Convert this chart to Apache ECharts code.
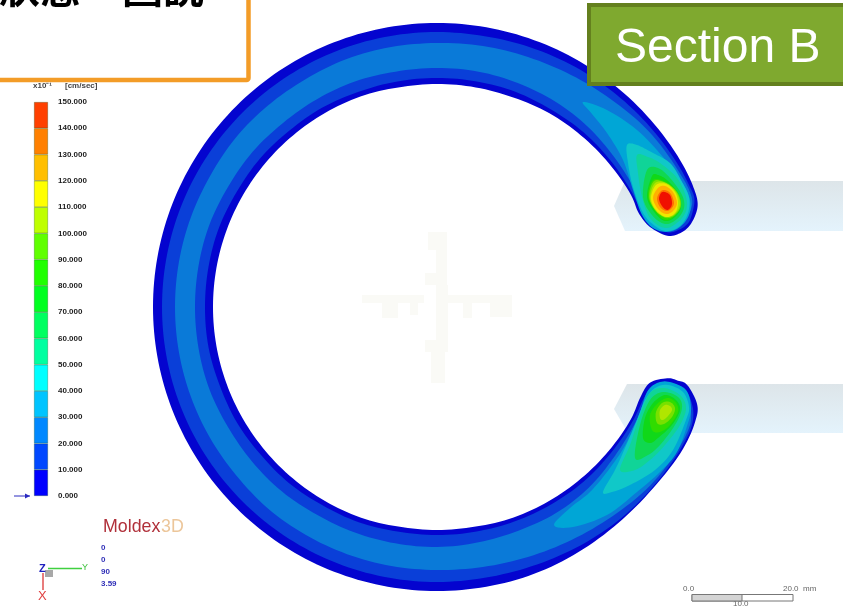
<!DOCTYPE html>
<html>
<head>
<meta charset="utf-8">
<title>Section B</title>
<script src="https://cdn.jsdelivr.net/npm/echarts@6/dist/echarts.min.js"></script>
<style>
html, body { margin: 0; padding: 0; background: #fff; }
#box { width: 843px; height: 606px; overflow: hidden; }
</style>
</head>
<body>
<div id="box"></div>
<script>
// colour bar
const legendTicks = [0, 10, 20, 30, 40, 50, 60, 70, 80, 90, 100, 110, 120, 130, 140, 150];
const legendBands = [10, 10, 10, 10, 10, 10, 10, 10, 10, 10, 10, 10, 10, 10, 10];
const legendColors = ['#0000ff', '#0048ff', '#0088ff', '#00c4ff', '#00ffff', '#00ffa0', '#00ff60', '#00ff20', '#20ff00', '#60ff00', '#bfff00', '#ffff00', '#ffbf00', '#ff8000', '#ff4000'];
// the shaded part looks darker than the bar
const contourColors = ['#0404cf', '#0a3fd8', '#0a7ad8', '#00a6d6', '#10c8c8', '#10d498', '#10d850', '#10d818', '#30dc00', '#78e000', '#b0e600', '#f0e800', '#ffb000', '#ff7000', '#f01000'];

// ring: radius read at each angle, degrees counter clockwise from the open side
const ringAngles = [30, 40, 50, 60, 70, 80, 90, 100, 110, 120, 130, 140, 150, 160, 170, 180, 190, 200, 210, 220, 230, 240, 250, 260, 270, 280, 290, 300, 310, 320, 330];
const outer0 = [284, 284, 284, 284, 284, 284, 284, 284, 284, 284, 284, 284, 284, 284, 284, 284, 284, 284, 284, 284, 284, 284, 284, 284, 284, 284, 284, 283, 282, 282, 284];
const inner0 = [224, 224, 224, 224, 223, 223, 223, 223, 224, 224, 224, 224, 224, 224, 224, 224, 224, 224, 224, 224, 224, 224, 224, 223, 223, 223, 224, 224, 224, 224, 224];
const outer10 = [280, 279, 278, 277, 276, 275, 275, 275, 275, 275, 275, 275, 275, 275, 275, 275, 275, 275, 275, 275, 275, 275, 275, 275, 275, 275, 276, 278, 280, 281, 282];
const inner10 = [226, 227, 228, 228, 229, 229, 229, 229, 229, 230, 230, 231, 231, 232, 232, 232, 232, 231, 231, 230, 230, 229, 229, 228, 228, 228, 228, 228, 228, 227, 226.5];
const outer20 = [277, 275, 271, 268, 266, 265, 264, 264, 264, 263, 263, 263, 262, 262, 262, 262, 262, 262, 262, 262, 263, 263, 263, 263, 263, 264, 266, 269, 273, 278, 280];
const inner20 = [230, 232, 235, 237, 238, 239, 239, 239, 240, 240, 240, 241, 241, 242, 242, 242, 242, 242, 241, 241, 241, 240, 240, 240, 240, 239, 238, 238, 236, 232, 229.5];

// rounded ends of the ring, [angle, radius]
const capUpper0 = [[25, 222.5], [20.6, 227.5], [17.2, 241], [16.9, 254], [17.8, 265], [19.9, 275.5], [22, 281], [25, 283]];
const capLower0 = [[336, 282.5], [339.4, 278], [342.7, 262], [343, 252], [342.8, 241], [340.4, 226], [336, 222.5]];
const capUpper10 = [[25, 226], [21, 231.5], [18, 242], [17.7, 254], [18.5, 265], [20.5, 273], [23, 279.5], [26, 280]];
const capLower10 = [[335, 281], [338.5, 275], [341.6, 262], [342, 252], [341.6, 241], [339.5, 229.5], [336, 226]];
const capUpper20 = [[25, 229.5], [21.8, 234], [19, 243], [18.7, 254], [19.2, 260], [20, 267], [21.3, 273], [23, 277], [26, 278]];
const capLower20 = [[334.5, 279.5], [336.5, 277], [338.5, 272], [340.6, 261], [341, 252], [340.6, 243], [338.5, 233], [335.5, 229]];

// fast regions near the two ends, [x, y] from the ring centre
const upper30 = [[146, 205], [170, 197], [200, 177], [226, 150], [244, 126], [253, 107], [252, 92], [243, 80], [230, 75], [216, 79], [205, 92], [196, 117], [186, 147], [170, 174], [155, 193]];
const upper40 = [[190, 162], [191, 144], [196, 120], [206, 94], [218, 81], [230, 76], [243, 81], [251, 94], [252, 110], [244, 127], [233, 144], [216, 154], [200, 162]];
const upper50 = [[200, 152], [201, 134], [205, 110], [213, 89], [228, 79], [241, 85], [249, 96], [249, 110], [240, 129], [223, 144], [211, 150]];
const upper60 = [[210, 137], [206, 110], [215, 92], [228, 83], [240, 88], [247, 99], [245, 112], [233, 129], [221, 139]];
const upper70 = [[215, 131], [210, 110], [218, 94], [228, 86], [238, 90], [244, 100], [241, 114], [230, 127], [221, 132]];
const upper80 = [[216, 127], [211, 110], [219, 95], [228, 87], [238, 91], [244, 101], [241, 114], [229, 125]];
const upper90 = [[217, 126], [212, 110], [219, 96], [229, 89], [238, 92], [244, 102], [240, 115], [229, 124]];
const upper100 = [[218, 124], [213, 109], [219, 96], [229, 90], [238, 93], [243, 103], [239, 115], [229, 124]];
const upper110 = [[219, 122], [214, 109], [219, 97], [229, 90], [238, 94], [241, 104], [238, 115], [229, 123]];
const upper120 = [[221, 119], [216, 109], [221, 98], [229, 93], [236, 96], [240, 104], [236, 115], [228, 121]];
const upper130 = [[223, 115], [220, 108], [223, 100], [229, 96], [234, 98], [237, 104], [234, 113], [228, 117]];
const upper140 = [[224, 114], [222, 108], [225, 101], [230, 97], [234, 100], [235, 105], [233, 112], [228, 115]];

const lower30 = [[117, -218], [133, -201], [153, -185], [173, -161], [190, -135], [203, -105], [210, -85], [220, -76], [233, -75], [249, -83], [254, -100], [251, -116], [240, -145], [223, -165], [200, -185], [170, -208], [136, -220]];
const lower40 = [[166, -185], [178, -163], [188, -141], [200, -113], [208, -93], [218, -81], [231, -78], [246, -85], [252, -100], [249, -113], [236, -143], [218, -163], [193, -178], [175, -185]];
const lower50 = [[183, -163], [193, -138], [203, -108], [213, -86], [227, -81], [243, -88], [249, -101], [243, -118], [228, -138], [213, -153], [198, -163]];
const lower60 = [[198, -151], [203, -118], [213, -93], [226, -85], [241, -90], [245, -101], [238, -118], [223, -138], [211, -148]];
const lower70 = [[206, -131], [208, -111], [216, -96], [228, -88], [239, -93], [243, -103], [235, -118], [221, -131], [213, -136]];
const lower80 = [[215, -123], [213, -108], [221, -96], [231, -91], [239, -96], [241, -105], [233, -118], [223, -125]];
const lower90 = [[220, -116], [219, -105], [225, -96], [233, -95], [238, -101], [235, -110], [227, -117]];
const lower100 = [[223, -111], [223, -103], [228, -98], [233, -99], [235, -103], [231, -109], [226, -113]];

// the two runners behind the part
const runnerUpper = [[177, 101], [188, 126], [406, 126], [406, 76], [188, 76]];
const runnerLower = [[177, -102], [190, -77], [406, -77], [406, -126], [191, -126]];

let box = document.getElementById('box');
let myecharts = echarts.init(box);

function ringOutline(outer, capLower, inner, capUpper) {
  let pts = [];
  ringAngles.forEach((a, i) => pts.push([outer[i], a]));
  capLower.forEach(p => pts.push([p[1], p[0]]));
  for (let i = ringAngles.length - 1; i >= 0; i--) pts.push([inner[i], ringAngles[i]]);
  capUpper.forEach(p => pts.push([p[1], p[0]]));
  return pts;
}

// draws the outline as a closed curve through the points, only for the look of the edge
function roundOutline(pts, steps) {
  let out = [];
  let n = pts.length;
  for (let i = 0; i < n; i++) {
    let p0 = pts[(i - 1 + n) % n], p1 = pts[i], p2 = pts[(i + 1) % n], p3 = pts[(i + 2) % n];
    for (let s = 0; s < steps; s++) {
      let t = s / steps;
      out.push([0, 1].map(k =>
        0.5 * (2 * p1[k] + (p2[k] - p0[k]) * t +
          (2 * p0[k] - 5 * p1[k] + 4 * p2[k] - p3[k]) * t * t +
          (3 * p1[k] - p0[k] - 3 * p2[k] + p3[k]) * t * t * t)));
    }
  }
  return out;
}

function polySeries(coordOpts, pts, fill, steps, z) {
  const outline = steps > 1 ? roundOutline(pts, steps) : pts;
  return Object.assign({
    type: 'custom',
    silent: true,
    animation: false,
    clip: false,
    z: z,
    data: [[0, 0]],
    renderItem: function (params, api) {
      return {
        type: 'polygon',
        shape: {points: outline.map(p => api.coord(p))},
        style: {fill: fill}
      };
    }
  }, coordOpts);
}

const inPolar = {coordinateSystem: 'polar'};
const inModel = {coordinateSystem: 'cartesian2d', xAxisIndex: 0, yAxisIndex: 0};

const runnerFill = new echarts.graphic.LinearGradient(0, 0, 0, 1, [
  {offset: 0, color: '#dde5e9'},
  {offset: 1, color: '#e4f3fc'}
]);

let series = [];
series.push(polySeries(inModel, runnerUpper, runnerFill, 1, 1));
series.push(polySeries(inModel, runnerLower, runnerFill, 1, 1));
series.push(polySeries(inPolar, ringOutline(outer0, capLower0, inner0, capUpper0), contourColors[0], 8, 2));
series.push(polySeries(inPolar, ringOutline(outer10, capLower10, inner10, capUpper10), contourColors[1], 8, 3));
series.push(polySeries(inPolar, ringOutline(outer20, capLower20, inner20, capUpper20), contourColors[2], 8, 4));

// painted low to high so every level sits on the one below
const tipLevels = [
  [upper30, lower30, 3], [upper40, lower40, 4], [upper50, lower50, 5], [upper60, lower60, 6],
  [upper70, lower70, 7], [upper80, lower80, 8], [upper90, lower90, 9], [upper100, lower100, 10],
  [upper110, null, 11], [upper120, null, 12], [upper130, null, 13], [upper140, null, 14]
];
tipLevels.forEach(t => {
  series.push(polySeries(inModel, t[0], contourColors[t[2]], 8, 2 + t[2]));
  if (t[1]) series.push(polySeries(inModel, t[1], contourColors[t[2]], 8, 2 + t[2]));
});

legendBands.forEach((v, i) => {
  series.push({
    type: 'bar',
    xAxisIndex: 1,
    yAxisIndex: 1,
    stack: 'legend',
    barWidth: '100%',
    silent: true,
    animation: false,
    itemStyle: {color: legendColors[i], borderColor: 'rgba(0,60,0,0.45)', borderWidth: 0.6},
    data: [v]
  });
});

const labelFont = 'bold 8px "Liberation Sans"';
function txt(text, x, y, font, fill, extra) {
  return Object.assign({type: 'text', z: 60, silent: true, style: {text: text, x: x, y: y, font: font, fill: fill, textVerticalAlign: 'middle'}}, extra || {});
}
function rect(x, y, w, h, fill) {
  return {type: 'rect', z: 1, silent: true, shape: {x: x, y: y, width: w, height: h}, style: {fill: fill}};
}
function line(x1, y1, x2, y2, stroke, width) {
  return {type: 'line', z: 60, silent: true, shape: {x1: x1, y1: y1, x2: x2, y2: y2}, style: {stroke: stroke, lineWidth: width}};
}

const faint = '#fafaf6';
let graphics = [
  // faint watermark in the middle
  rect(428, 232, 19, 18, faint), rect(436, 250, 11, 23, faint), rect(425, 273, 22, 12, faint), rect(436, 285, 12, 60, faint),
  rect(425, 340, 23, 12, faint), rect(431, 352, 14, 31, faint), rect(362, 295, 62, 8, faint), rect(382, 303, 16, 15, faint),
  rect(410, 303, 8, 12, faint), rect(448, 295, 64, 8, faint), rect(463, 303, 9, 15, faint), rect(490, 303, 22, 14, faint),

  // note box top left
  {type: 'rect', z: 50, silent: true, shape: {x: -10, y: -10, width: 258.5, height: 90, r: 2}, style: {fill: '#fff', stroke: '#f39c27', lineWidth: 4.5}},
  {type: 'text', z: 51, silent: true, style: {text: '狀態　圖說', x: -1, y: -33, font: 'bold 41px "Noto Sans CJK TC"', fill: '#000'}},

  // section tag
  {type: 'rect', z: 50, silent: true, shape: {x: 589, y: 5, width: 270, height: 79}, style: {fill: '#7fa92f', stroke: '#64801e', lineWidth: 4}},
  {type: 'text', z: 51, silent: true, style: {text: 'Section B', x: 615, y: 25, font: '48px "Liberation Sans"', fill: '#fff'}},

  // colour bar head and min arrow
  txt('x10⁻¹', 33, 86, 'bold 8px "Liberation Sans"', '#444'),
  txt('[cm/sec]', 65, 86, 'bold 8px "Liberation Sans"', '#444'),
  line(14, 496, 30, 496, '#2a2ac0', 1),
  {type: 'polygon', z: 60, silent: true, shape: {points: [[30, 496], [25, 493.5], [25, 498.5]]}, style: {fill: '#2a2ac0'}},

  // logo and view numbers
  txt('Moldex', 103, 527, '17.8px "Liberation Sans"', '#b0303a'),
  txt('3D', 161, 527, '17.8px "Liberation Sans"', '#ecc69a'),
  txt('0', 101, 548, labelFont, '#3030b8'),
  txt('0', 101, 560, labelFont, '#3030b8'),
  txt('90', 101, 572, labelFont, '#3030b8'),
  txt('3.59', 101, 584, labelFont, '#3030b8'),

  // axis triad
  rect(45, 570, 8, 7, '#a8a8a8'),
  line(48, 568.5, 82, 568.5, '#40d040', 1.5),
  line(43, 573, 43, 590, '#e05050', 1.5),
  txt('Z', 39, 569, 'bold 11px "Liberation Sans"', '#2020c0'),
  txt('Y', 82, 568, '9px "Liberation Sans"', '#40c040'),
  txt('X', 38, 596, '13px "Liberation Sans"', '#e04040'),

  // scale bar
  txt('0.0', 683, 589, '8px "Liberation Sans"', '#666'),
  txt('20.0', 783, 589, '8px "Liberation Sans"', '#666'),
  txt('mm', 803, 589, '8px "Liberation Sans"', '#666'),
  txt('10.0', 733, 604, '8px "Liberation Sans"', '#666'),
  {type: 'rect', z: 60, silent: true, shape: {x: 692, y: 594.5, width: 101, height: 6.5}, style: {fill: '#fff', stroke: '#777', lineWidth: 1}},
  {type: 'rect', z: 60, silent: true, shape: {x: 692, y: 594.5, width: 50, height: 6.5}, style: {fill: '#d4d4d4', stroke: '#777', lineWidth: 1}}
];

let option = {
  backgroundColor: '#fff',
  polar: {center: [437, 307], radius: 284},
  angleAxis: {type: 'value', min: 0, max: 360, startAngle: 0, clockwise: false, show: false},
  radiusAxis: {type: 'value', min: 0, max: 284, show: false},
  grid: [
    {left: 0, top: 0, width: 843, height: 606, containLabel: false},
    {left: 34, top: 102, width: 14, height: 394, containLabel: false}
  ],
  xAxis: [
    {type: 'value', gridIndex: 0, min: -437, max: 406, show: false},
    {type: 'category', gridIndex: 1, data: [''], show: false}
  ],
  yAxis: [
    {type: 'value', gridIndex: 0, min: -299, max: 307, show: false},
    {
      type: 'value',
      gridIndex: 1,
      position: 'right',
      min: legendTicks[0],
      max: legendTicks[legendTicks.length - 1],
      interval: 10,
      axisLine: {show: false},
      axisTick: {show: false},
      splitLine: {show: false},
      axisLabel: {
        margin: 10,
        fontFamily: 'Liberation Sans',
        fontSize: 8,
        fontWeight: 'bold',
        color: '#222',
        formatter: v => v.toFixed(3)
      }
    }
  ],
  graphic: {elements: graphics},
  series: series
};
myecharts.setOption(option);

window.onresize = function () {
  myecharts.resize();
};
</script>
</body>
</html>
